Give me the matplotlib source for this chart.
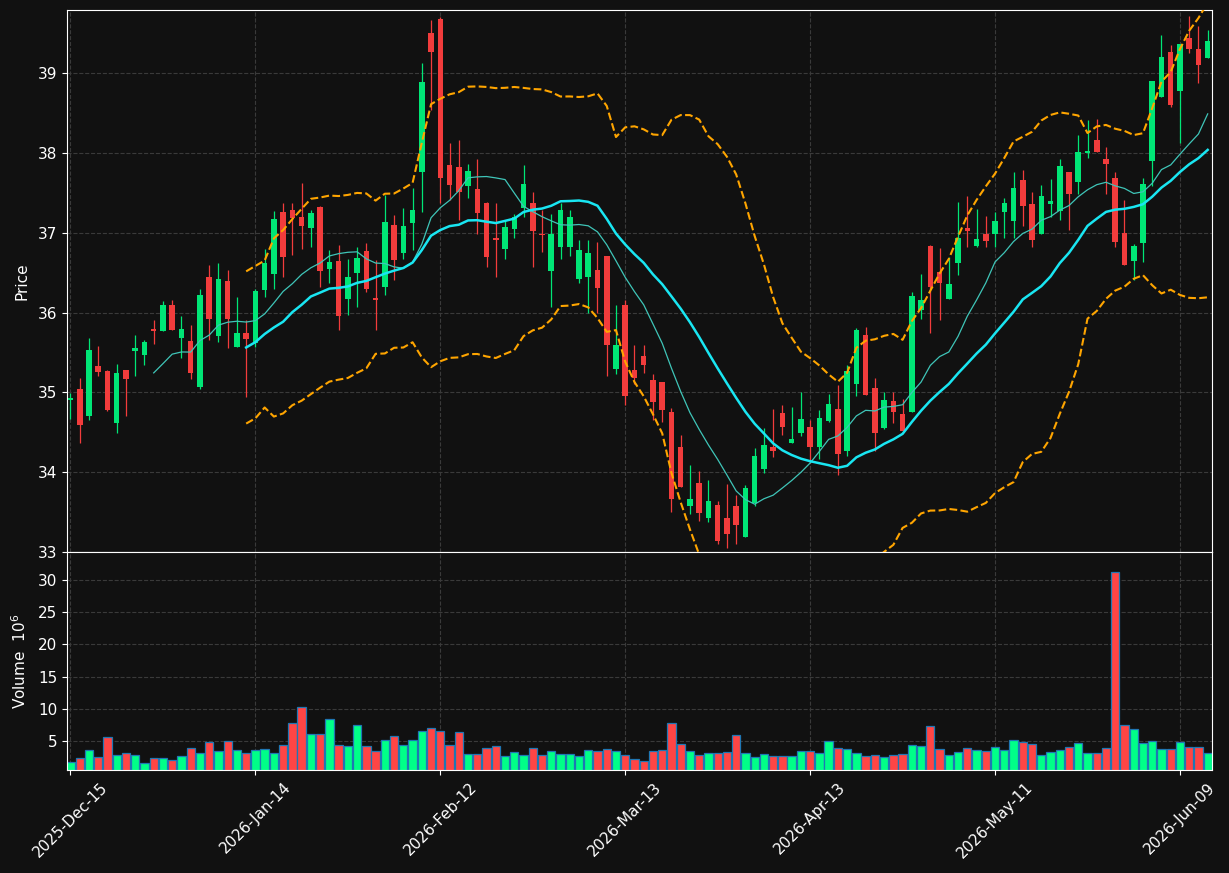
import numpy as np
import pandas as pd
import matplotlib
matplotlib.use('Agg')
import matplotlib.pyplot as plt

#---------------------------#
# daily OHLCV (read by eye) #
#---------------------------#

holidays = ['2025-12-25', '2026-01-01', '2026-01-19', '2026-02-16', '2026-04-03', '2026-05-25']
dates = pd.bdate_range('2025-12-15', '2026-06-12')
dates = dates[~dates.isin(pd.to_datetime(holidays))]

opens = [34.90, 35.04, 34.71, 35.33, 35.27, 34.62, 35.28, 35.52, 35.47, 35.79,
         35.77, 36.09, 35.68, 35.64, 35.07, 36.45, 35.70, 36.39, 35.57, 35.75,
         35.62, 36.28, 36.48, 37.26, 37.28, 37.20, 37.06, 37.32, 36.54, 36.65,
         36.17, 36.49, 36.77, 36.18, 36.32, 37.10, 36.74, 37.12, 37.76, 39.50,
         39.68, 37.85, 37.82, 37.59, 37.55, 37.37, 36.93, 36.79, 37.05, 37.31,
         37.37, 36.99, 36.52, 36.82, 36.82, 36.42, 36.44, 36.53, 36.71, 35.29,
         36.09, 35.28, 35.46, 35.15, 35.13, 34.75, 34.32, 33.58, 33.87, 33.43,
         33.59, 33.43, 33.58, 33.19, 33.62, 34.04, 34.32, 34.74, 34.36, 34.49,
         34.57, 34.31, 34.64, 34.79, 34.26, 35.11, 35.72, 35.06, 34.55, 34.89,
         34.73, 34.76, 36.03, 36.83, 36.51, 36.17, 36.62, 37.06, 36.84, 36.98,
         36.99, 37.26, 37.15, 37.66, 37.36, 36.98, 37.36, 37.27, 37.76, 37.63,
         38.00, 38.16, 37.92, 37.69, 37.00, 36.64, 36.87, 37.90, 38.70, 39.26,
         38.77, 39.44, 39.30, 39.19]
highs = [34.99, 35.18, 35.68, 35.58, 35.28, 35.36, 35.28, 35.72, 35.66, 35.91,
         36.14, 36.16, 35.96, 35.84, 36.29, 36.60, 36.62, 36.53, 36.20, 35.91,
         36.29, 36.80, 37.27, 37.37, 37.37, 37.62, 37.29, 37.33, 36.78, 36.85,
         36.67, 36.82, 36.87, 36.66, 37.47, 37.22, 37.31, 37.56, 39.13, 39.66,
         39.70, 38.12, 38.16, 37.86, 37.92, 37.39, 37.37, 37.16, 37.24, 37.85,
         37.51, 37.28, 37.24, 37.37, 37.28, 36.91, 36.91, 36.89, 36.71, 36.09,
         36.16, 35.59, 35.59, 35.23, 35.13, 34.80, 34.47, 34.09, 34.01, 33.90,
         33.64, 33.85, 33.71, 33.84, 34.30, 34.55, 34.79, 34.84, 34.82, 35.00,
         34.65, 34.78, 34.98, 35.09, 35.34, 35.81, 35.82, 35.18, 35.00, 35.01,
         34.92, 36.26, 36.48, 36.85, 36.81, 36.70, 37.38, 37.46, 37.30, 37.21,
         37.26, 37.44, 37.76, 37.79, 37.51, 37.60, 37.67, 37.92, 37.76, 38.23,
         38.41, 38.43, 38.08, 37.76, 37.41, 36.86, 37.68, 38.90, 39.48, 39.35,
         39.37, 39.71, 39.59, 39.54]
lows = [34.67, 34.36, 34.66, 35.20, 34.77, 34.49, 34.71, 35.20, 35.34, 35.60,
        35.77, 35.78, 35.43, 35.17, 35.04, 35.66, 35.63, 35.56, 35.57, 34.94,
        35.57, 36.20, 36.30, 36.44, 36.72, 36.80, 36.82, 36.32, 36.37, 35.78,
        35.97, 36.07, 36.26, 35.78, 36.22, 36.41, 36.67, 36.78, 37.26, 38.54,
        37.37, 37.41, 37.16, 37.43, 36.99, 36.57, 36.45, 36.67, 36.93, 37.20,
        36.57, 36.76, 36.07, 36.67, 36.71, 36.37, 36.00, 35.99, 35.20, 35.23,
        34.84, 35.11, 35.24, 34.65, 34.63, 33.50, 33.82, 33.48, 33.39, 33.37,
        33.10, 33.05, 33.10, 33.19, 33.58, 33.99, 34.19, 34.47, 34.36, 34.45,
        34.12, 34.17, 34.63, 33.96, 34.20, 34.95, 34.97, 34.27, 34.54, 34.62,
        34.52, 34.76, 35.92, 35.75, 35.91, 36.17, 36.47, 36.82, 36.82, 36.82,
        36.82, 36.94, 36.94, 37.08, 36.82, 36.98, 37.20, 37.16, 37.03, 37.49,
        37.94, 38.01, 37.49, 36.82, 36.59, 36.41, 36.63, 37.58, 38.70, 38.57,
        38.12, 39.25, 38.87, 39.19]
closes = [34.93, 34.59, 35.53, 35.25, 34.78, 35.24, 35.17, 35.55, 35.63, 35.77,
          36.09, 35.78, 35.80, 35.24, 36.22, 35.92, 36.42, 35.92, 35.75, 35.67,
          36.27, 36.62, 37.17, 36.69, 37.19, 37.08, 37.25, 36.52, 36.63, 35.96,
          36.44, 36.68, 36.29, 36.16, 37.13, 36.66, 37.08, 37.28, 38.89, 39.27,
          37.69, 37.60, 37.51, 37.77, 37.25, 36.70, 36.91, 37.07, 37.20, 37.61,
          37.02, 36.97, 36.99, 37.28, 37.20, 36.78, 36.75, 36.31, 35.59, 35.59,
          34.95, 35.18, 35.34, 34.88, 34.78, 33.66, 33.82, 33.67, 33.49, 33.64,
          33.14, 33.23, 33.34, 33.80, 34.20, 34.34, 34.27, 34.57, 34.42, 34.67,
          34.31, 34.68, 34.85, 34.23, 35.27, 35.78, 34.97, 34.49, 34.90, 34.76,
          34.52, 36.21, 36.16, 36.32, 36.37, 36.36, 36.93, 37.02, 36.92, 36.90,
          37.15, 37.37, 37.56, 37.33, 36.91, 37.46, 37.40, 37.83, 37.49, 38.01,
          38.02, 38.01, 37.86, 36.88, 36.59, 36.83, 37.61, 38.90, 39.20, 38.60,
          39.36, 39.30, 39.10, 39.40]
volumes = [1.72, 2.39, 3.59, 2.50, 5.63, 2.81, 3.13, 2.81, 1.56, 2.39,
           2.39, 2.03, 2.70, 3.95, 3.13, 4.89, 3.44, 5.00, 3.59, 3.13,
           3.59, 3.75, 3.13, 4.38, 7.81, 10.31, 6.09, 6.09, 8.44, 4.38,
           4.22, 7.50, 4.22, 3.44, 5.16, 5.78, 4.38, 5.16, 6.56, 7.03,
           6.56, 4.38, 6.41, 2.97, 2.97, 3.91, 4.22, 2.66, 3.28, 2.81,
           3.91, 2.81, 3.44, 2.97, 2.97, 2.66, 3.59, 3.44, 3.75, 3.44,
           2.81, 2.19, 1.88, 3.44, 3.59, 7.81, 4.53, 3.44, 2.81, 3.13,
           3.13, 3.28, 5.94, 3.13, 2.50, 2.97, 2.66, 2.66, 2.66, 3.44,
           3.44, 3.13, 5.00, 3.91, 3.75, 3.13, 2.66, 2.81, 2.50, 2.81,
           2.97, 4.38, 4.22, 7.34, 3.75, 2.81, 3.28, 3.91, 3.59, 3.44,
           4.06, 3.59, 5.16, 4.84, 4.53, 2.81, 3.28, 3.59, 4.06, 4.69,
           3.13, 3.13, 3.91, 31.25, 7.50, 6.88, 4.69, 5.00, 3.75, 3.75,
           4.84, 4.06, 4.06, 3.13]  # millions

df = pd.DataFrame({'Open': opens, 'High': highs, 'Low': lows,
                   'Close': closes, 'Volume': volumes}, index=dates)

# indicators
df['ma10'] = df['Close'].rolling(10).mean()
df['ma20'] = df['Close'].rolling(20).mean()
sd20 = df['Close'].rolling(20).std()
df['bb_up'] = df['ma20'] + 2 * sd20
df['bb_lo'] = df['ma20'] - 2 * sd20

#-------#
# plot  #
#-------#

bg = '#111111'
up_c, dn_c = '#00e676', '#f23c3c'
vup_c, vdn_c = '#00ff88', '#ff4545'

fig = plt.figure(figsize=(12.29, 8.73), dpi=100, facecolor=bg)
ax = fig.add_axes([0.0545, 0.3677, 0.9317, 0.6208], facecolor=bg)
axv = fig.add_axes([0.0545, 0.1180, 0.9317, 0.2497], facecolor=bg, sharex=ax)

x = np.arange(len(df))
up = df['Close'] >= df['Open']

# candles
body_lo = np.minimum(df['Open'], df['Close'])
body_h = np.maximum(np.abs(df['Close'] - df['Open']), 0.02)
cols = np.where(up, up_c, dn_c)
ax.vlines(x, df['Low'], df['High'], colors=cols, linewidth=0.9, zorder=2)
ax.bar(x, body_h, bottom=body_lo, width=0.6, color=cols, zorder=3)

ax.plot(x, df['ma10'], color='#3fc5b8', linewidth=0.9, zorder=4)
ax.plot(x, df['ma20'], color='#19e6f2', linewidth=1.8, zorder=4)
ax.plot(x, df['bb_up'], color='#ffa500', linestyle='--', linewidth=1.5, zorder=4)
ax.plot(x, df['bb_lo'], color='#ffa500', linestyle='--', linewidth=1.5, zorder=4)

# volume
axv.bar(x, df['Volume'], width=0.9, color=np.where(up, vup_c, vdn_c),
        edgecolor='#1f77b4', linewidth=0.9)

ax.set_ylim(33, 39.79)
ax.set_xlim(-0.38, 123.47)
axv.set_ylim(0.3 * df['Volume'].min(), 1.1 * df['Volume'].max())

ticks = x[::20]
axv.set_xticks(ticks)
axv.set_xticklabels([d.strftime('%Y-%b-%d') for d in dates[ticks]],
                    rotation=45, ha='center', fontsize=11)
axv.set_yticks([5, 10, 15, 20, 25, 30])
ax.set_yticks(range(33, 40))
plt.setp(ax.get_xticklabels(), visible=False)

for a in (ax, axv):
    a.grid(True, color='#3a3a3a', linestyle='--', linewidth=0.8)
    a.set_axisbelow(True)
    a.tick_params(colors='white', labelsize=11)
    for s in a.spines.values():
        s.set_color('white')
ax.tick_params(axis='x', length=0)

ax.set_ylabel('Price', color='white', fontsize=11)
axv.set_ylabel('Volume  $10^{6}$', color='white', fontsize=11)
ax.yaxis.set_label_coords(-0.033, 0.5)
axv.yaxis.set_label_coords(-0.033, 0.5)

fig.savefig('out.png', dpi=100, facecolor=bg)
